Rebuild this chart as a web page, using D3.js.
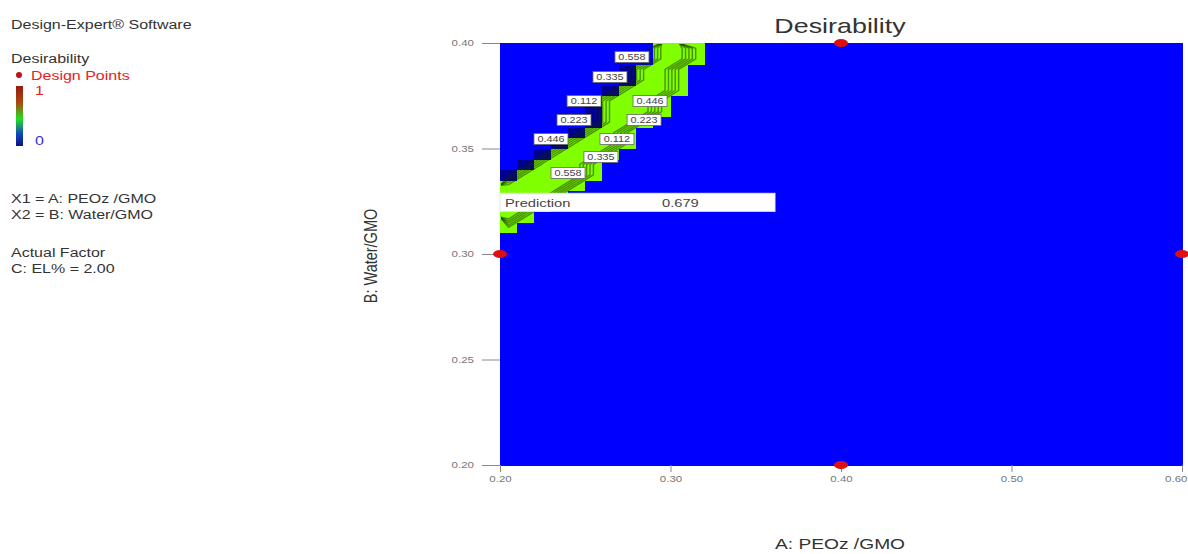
<!DOCTYPE html>
<html>
<head>
<meta charset="utf-8">
<script src="https://cdn.jsdelivr.net/npm/d3@7"></script>
<style>
body { margin: 0; background: #fff; }
svg { font-family: "Liberation Sans", Arial, sans-serif; display: block; }
</style>
</head>
<body>
<svg id="chart" width="1188" height="554"></svg>
<script>
// axis ranges and ticks
const xDomain = [0.20, 0.60];
const yDomain = [0.20, 0.40];
const xTicks = [0.20, 0.30, 0.40, 0.50, 0.60];
const yTicks = [0.20, 0.25, 0.30, 0.35, 0.40];

// grid the surface was evaluated on
const xStep = 0.01;
const yStep = 0.005;

// desirability on the grid rows that are not zero
const rowB = [0.310, 0.315, 0.320, 0.325, 0.330, 0.335, 0.340, 0.345, 0.350,
              0.355, 0.360, 0.365, 0.370, 0.375, 0.380, 0.385, 0.390, 0.395];
const rowStartA = [0.20, 0.20, 0.20, 0.20, 0.20, 0.20, 0.21, 0.22, 0.23,
                   0.24, 0.25, 0.25, 0.25, 0.26, 0.27, 0.27, 0.29, 0.29];
const rowValues = [
  [0.10],
  [0.66, 0.10],
  [0.66, 0.66, 0.10],
  [0.66, 0.66, 0.66, 0.10],
  [0.60, 0.66, 0.66, 0.66, 0.10],
  [0.05, 0.60, 0.66, 0.66, 0.66, 0.10],
  [0.05, 0.60, 0.66, 0.66, 0.10],
  [0.05, 0.60, 0.66, 0.66, 0.10],
  [0.05, 0.60, 0.66, 0.66, 0.10],
  [0.05, 0.60, 0.66, 0.10],
  [0.05, 0.60, 0.66, 0.10],
  [0.05, 0.60, 0.66, 0.66, 0.10],
  [0.05, 0.60, 0.66, 0.66, 0.10],
  [0.05, 0.60, 0.66, 0.66, 0.10],
  [0.05, 0.60, 0.66, 0.10],
  [0.05, 0.60, 0.66, 0.10],
  [0.60, 0.66, 0.10],
  [0.60, 0.66, 0.10]
];

// contour levels and where their labels sit
const contourLevels = [0.112, 0.223, 0.335, 0.446, 0.558];
const labelLevel = [0.558, 0.335, 0.112, 0.223, 0.446, 0.446, 0.223, 0.112, 0.335, 0.558];
const labelA = [0.2774, 0.2645, 0.2493, 0.2434, 0.2299, 0.2880, 0.2845, 0.2686, 0.2592, 0.2399];
const labelB = [0.3934, 0.3839, 0.3725, 0.3635, 0.3545, 0.3725, 0.3635, 0.3545, 0.3460, 0.3384];

// design points
const designA = [0.40, 0.20, 0.60, 0.40];
const designB = [0.40, 0.30, 0.30, 0.20];

// prediction flag
const predA = 0.20, predB = 0.3245, predValue = 0.679;

const SX = 1.28; // the picture's text is drawn wide

const svg = d3.select('#chart');
const margin = { left: 500, right: 6, top: 43, bottom: 89 };
const width = 1188 - margin.left - margin.right;
const height = 554 - margin.top - margin.bottom;

const x = d3.scaleLinear().domain(xDomain).range([margin.left, margin.left + width]);
const y = d3.scaleLinear().domain(yDomain).range([margin.top + height, margin.top]);

function addText(parent, px, py, str, size, fill, anchor) {
	return parent.append('text')
		.attr('transform', `translate(${px},${py}) scale(${SX},1)`)
		.attr('font-size', size)
		.attr('fill', fill)
		.attr('text-anchor', anchor || 'start')
		.text(str);
}

// build the full grid
const nx = Math.round((xDomain[1] - xDomain[0]) / xStep);
const ny = Math.round((yDomain[1] - yDomain[0]) / yStep);
const values = new Array(nx * ny).fill(0);
rowB.forEach((b, i) => {
	const r = Math.round((b - yDomain[0]) / yStep);
	const c0 = Math.round((rowStartA[i] - xDomain[0]) / xStep);
	rowValues[i].forEach((v, k) => { values[r * nx + c0 + k] = v; });
});

const colour = d3.scaleThreshold()
	.domain([0.001, 0.09])
	.range(['#0000ff', '#000090', '#80ff00']);

// cells
const cells = [];
for (let r = 0; r < ny; r++) {
	for (let c = 0; c < nx; c++) {
		cells.push({ a: xDomain[0] + c * xStep, b: yDomain[0] + r * yStep, v: values[r * nx + c] });
	}
}
svg.append('g')
	.attr('shape-rendering', 'crispEdges')
	.selectAll('rect')
	.data(cells)
	.join('rect')
	.attr('x', d => x(d.a))
	.attr('y', d => y(d.b + yStep))
	.attr('width', d => x(d.a + xStep) - x(d.a) + 0.5)
	.attr('height', d => y(d.b) - y(d.b + yStep) + 0.5)
	.attr('fill', d => colour(d.v));

// contour lines
svg.append('clipPath').attr('id', 'plotclip')
	.append('rect')
	.attr('x', x(xDomain[0]) + 1).attr('y', y(yDomain[1]) + 1)
	.attr('width', width - 2).attr('height', height - 2);

const contours = d3.contours().size([nx, ny]).thresholds(contourLevels)(values);
const gridPath = d3.geoPath(d3.geoTransform({
	point: function (u, v) {
		this.stream.point(x(xDomain[0] + u * xStep), y(yDomain[0] + v * yStep));
	}
}));
svg.append('g')
	.attr('clip-path', 'url(#plotclip)')
	.selectAll('path')
	.data(contours)
	.join('path')
	.attr('d', gridPath)
	.attr('fill', 'none')
	.attr('stroke', '#0f2a00')
	.attr('stroke-opacity', 0.5)
	.attr('stroke-width', 1.4);

// contour labels
const labels = svg.append('g');
labelLevel.forEach((lv, i) => {
	const cx = x(labelA[i]), cy = y(labelB[i]);
	labels.append('rect')
		.attr('x', cx - 17).attr('y', cy - 5.5)
		.attr('width', 34).attr('height', 11)
		.attr('fill', '#fff').attr('stroke', '#666').attr('stroke-width', 0.8);
	addText(labels, cx, cy + 3.2, d3.format('.3f')(lv), 8.5, '#444', 'middle');
});

// prediction flag
const pg = svg.append('g');
pg.append('rect')
	.attr('x', x(predA)).attr('y', y(predB) - 9)
	.attr('width', 275).attr('height', 18)
	.attr('fill', '#fff').attr('stroke', '#e8e8e8');
addText(pg, x(predA) + 5, y(predB) + 4.5, 'Prediction', 11.5, '#444');
addText(pg, x(predA) + 162, y(predB) + 4.5, d3.format('.3f')(predValue), 11.5, '#444');

// axes
const yAxis = d3.axisLeft(y).tickValues(yTicks).tickSize(18).tickPadding(8).tickFormat(d3.format('.2f'));
const gy = svg.append('g').attr('transform', `translate(${x(xDomain[0])},0)`).call(yAxis);
const xAxis = d3.axisBottom(x).tickValues(xTicks).tickSize(7).tickPadding(4).tickFormat(d3.format('.2f'));
const gx = svg.append('g').attr('transform', `translate(0,${y(yDomain[0])})`).call(xAxis);
[gx, gy].forEach(g => {
	g.attr('font-family', null).attr('font-size', null);
	g.select('.domain').remove();
	g.selectAll('line').attr('stroke', '#888');
	g.selectAll('text')
		.attr('font-size', 9)
		.attr('fill', '#777')
		.each(function () {
			const t = d3.select(this);
			t.attr('x', (+t.attr('x') || 0) / SX).attr('transform', `scale(${SX},1)`);
		});
});
// keep the last x tick label inside the page
gx.selectAll('.tick').filter(d => d === xDomain[1]).select('text')
	.attr('text-anchor', 'end').attr('x', 5 / SX);

// design points
svg.append('g')
	.selectAll('ellipse')
	.data(designA.map((a, i) => [a, designB[i]]))
	.join('ellipse')
	.attr('cx', d => x(d[0]))
	.attr('cy', d => y(d[1]))
	.attr('rx', 7).attr('ry', 4)
	.attr('fill', '#dd1010');

// titles
addText(svg, 840, 33, 'Desirability', 21, '#333', 'middle');
addText(svg, 840, 549, 'A: PEOz /GMO', 15, '#333', 'middle');
svg.append('text')
	.attr('transform', `translate(377,256) scale(${SX},1) rotate(-90)`)
	.attr('font-size', 14.5)
	.attr('fill', '#333')
	.attr('text-anchor', 'middle')
	.text('B: Water/GMO');

// left legend
const lg = svg.append('g');
addText(lg, 11, 29, 'Design-Expert® Software', 12.5, '#333');
addText(lg, 11, 63, 'Desirability', 12.5, '#333');
lg.append('circle').attr('cx', 19).attr('cy', 75).attr('r', 3).attr('fill', '#c01010');
addText(lg, 31, 80, 'Design Points', 12.5, '#e82020');

const grad = svg.append('defs').append('linearGradient')
	.attr('id', 'dgrad').attr('x1', 0).attr('y1', 0).attr('x2', 0).attr('y2', 1);
[['0%', '#9a1a10'], ['28%', '#a84a10'], ['55%', '#20e020'], ['80%', '#1048c0'], ['100%', '#101080']]
	.forEach(s => grad.append('stop').attr('offset', s[0]).attr('stop-color', s[1]));
lg.append('rect').attr('x', 16).attr('y', 86).attr('width', 7).attr('height', 60).attr('fill', 'url(#dgrad)');
addText(lg, 35, 95, '1', 12.5, '#e02020');
addText(lg, 35, 145, '0', 12.5, '#3030e0');

addText(lg, 11, 203, 'X1 = A: PEOz /GMO', 12.5, '#333');
addText(lg, 11, 219, 'X2 = B: Water/GMO', 12.5, '#333');
addText(lg, 11, 257, 'Actual Factor', 12.5, '#333');
addText(lg, 11, 273, 'C: EL% = 2.00', 12.5, '#333');
</script>
</body>
</html>
